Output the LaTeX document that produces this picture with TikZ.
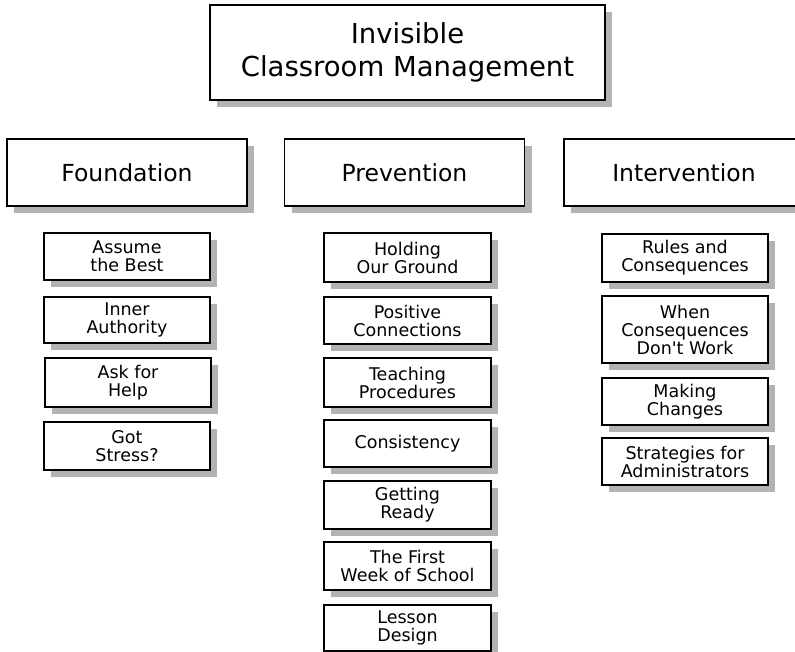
\documentclass[tikz,border=0pt]{standalone}
\usepackage{fontspec}
\newfontfamily\vfont{DejaVu Sans}
\usetikzlibrary{shadows}
\tikzset{
  x=1pt, y=-1pt,
  card/.style={draw=black, line width=1.6pt, fill=white, inner sep=0pt, align=center,
    text=black, general shadow={fill=shadowgray, shadow xshift=7pt, shadow yshift=-7pt}},
  titlebox/.style={card, minimum width=395pt, minimum height=95pt,
    font=\vfont\fontsize{27.5}{33}\selectfont},
  headbox/.style={card, minimum width=240pt, minimum height=67pt,
    font=\vfont\fontsize{23.5}{28}\selectfont},
  itembox/.style={card, minimum width=166pt, minimum height=48pt,
    font=\vfont\fontsize{17.5}{18}\selectfont},
}
\definecolor{shadowgray}{HTML}{B3B3B3}
\begin{document}
\begin{tikzpicture}
\useasboundingbox (0,0) rectangle (795,652);
\begin{scope}
\clip (0,0) rectangle (795,652);
\node[titlebox] (title) at (407.5,52.5) {Invisible\\Classroom Management};

\node[headbox] (found) at (127,172.5) {Foundation};
\node[headbox] (prev) at (404.5,172.5) {Prevention};
\node[headbox] (inter) at (684,172.5) {Intervention};

\node[itembox, minimum height=47pt] (f1) at (127,256.5) {Assume\\the Best};
\node[itembox, minimum height=46pt] (f2) at (127,320) {Inner\\Authority};
\node[itembox, minimum height=49pt] (f3) at (128,382.5) {Ask for\\Help};
\node[itembox] (f4) at (127,446) {Got\\Stress?};

\node[itembox, minimum width=167pt, minimum height=49pt] (p1) at (407.5,257.5) {Holding\\Our Ground};
\node[itembox, minimum width=167pt, minimum height=47pt] (p2) at (407.5,320.5) {Positive\\Connections};
\node[itembox, minimum width=167pt, minimum height=49pt] (p3) at (407.5,382.5) {Teaching\\Procedures};
\node[itembox, minimum width=167pt, minimum height=47pt] (p4) at (407.5,443.5) {Consistency};
\node[itembox, minimum width=167pt] (p5) at (407.5,505) {Getting\\Ready};
\node[itembox, minimum width=167pt] (p6) at (407.5,566) {The First\\Week of School};
\node[itembox, minimum width=167pt, minimum height=46pt] (p7) at (407.5,628) {Lesson\\Design};

\node[itembox] (i1) at (685,258) {Rules and\\Consequences};
\node[itembox, minimum height=67pt] (i2) at (685,329.5) {When\\Consequences\\Don't Work};
\node[itembox, minimum height=47pt] (i3) at (685,401.5) {Making\\Changes};
\node[itembox, minimum height=47pt] (i4) at (685,461.5) {Strategies for\\Administrators};
\end{scope}
\end{tikzpicture}
\end{document}
